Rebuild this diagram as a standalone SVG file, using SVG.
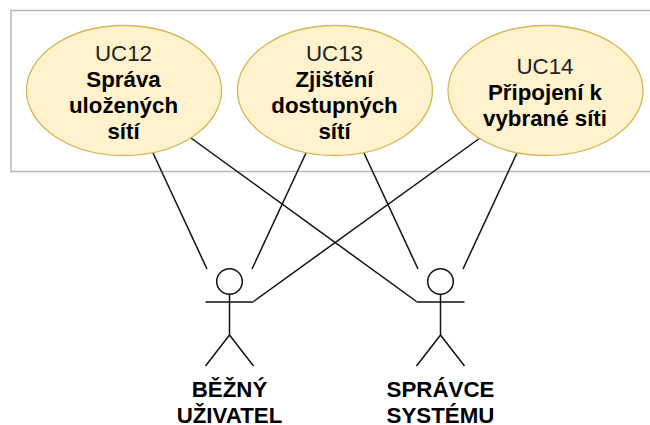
<svg xmlns="http://www.w3.org/2000/svg" width="650" height="425" viewBox="0 0 650 425">
<style>
text{font-family:"Liberation Sans",Arial,sans-serif;font-size:22.300px;text-anchor:middle;fill:#000}
.t{fill:#222}
.b{font-weight:bold}
.uc{fill:#fff2cc;stroke:#d6b656;stroke-width:1.300}
.l{stroke:#111;stroke-width:1.500;fill:none}
</style>
<rect width="650" height="425" fill="#fff"/>
<path id="boundary" d="M651 10.500H11V171.500H651" fill="none" stroke="#b8b8b8" stroke-width="1.500"/>
<g id="connectors" class="l">
<line x1="153" y1="153" x2="207" y2="269"/>
<line x1="191" y1="138" x2="416.500" y2="301.500"/>
<line x1="306" y1="153" x2="252" y2="269"/>
<line x1="364" y1="153" x2="418" y2="269"/>
<line x1="480" y1="138" x2="253.500" y2="301.500"/>
<line x1="517" y1="153" x2="463" y2="269"/>
</g>
<g id="uc12"><ellipse class="uc" cx="124" cy="90.500" rx="97.500" ry="65"/>
<text class="t" x="123.500" y="61">UC12</text><text class="b" x="123.500" y="87">Správa</text><text class="b" x="123.500" y="113">uložených</text><text class="b" x="123.500" y="139">sítí</text></g>
<g id="uc13"><ellipse class="uc" cx="335" cy="90.500" rx="97.500" ry="65"/>
<text class="t" x="334.500" y="61">UC13</text><text class="b" x="334.500" y="87">Zjištění</text><text class="b" x="334.500" y="113">dostupných</text><text class="b" x="334.500" y="139">sítí</text></g>
<g id="uc14"><ellipse class="uc" cx="545.500" cy="90.500" rx="97.500" ry="65"/>
<text class="t" x="545" y="74">UC14</text><text class="b" x="545" y="100">Připojení k</text><text class="b" x="545" y="126">vybrané síti</text></g>
<g id="actor1"><g class="l"><circle cx="229.500" cy="281.500" r="12.800"/><path d="M229.500 294.500V335M205.500 302H253.500M205.500 366L229.500 335L253.500 366"/></g>
<text class="b" x="229.500" y="397">BĚŽNÝ</text><text class="b" x="229.500" y="422.500">UŽIVATEL</text></g>
<g id="actor2"><g class="l"><circle cx="440.500" cy="281.500" r="12.800"/><path d="M440.500 294.500V335M416.500 302H464.500M416.500 366L440.500 335L464.500 366"/></g>
<text class="b" x="440.500" y="397">SPRÁVCE</text><text class="b" x="440.500" y="422.500">SYSTÉMU</text></g>
</svg>
